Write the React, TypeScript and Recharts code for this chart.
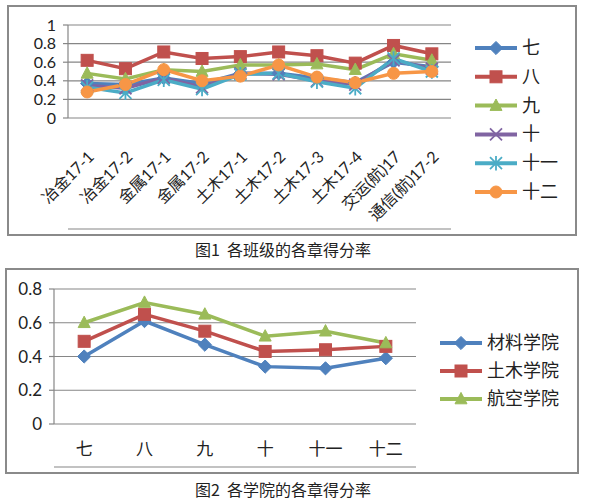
import React from "react"
import { LineChart, Line, XAxis, YAxis, CartesianGrid } from "recharts"

// 图1: score rate per class, one series per chapter
const classNames = ["冶金17-1", "冶金17-2", "金属17-1", "金属17-2", "土木17-1", "土木17-2", "土木17-3", "土木17-4", "交运(航)17", "通信(航)17-2"]
const ch7 = [0.37, 0.36, 0.43, 0.37, 0.48, 0.48, 0.43, 0.38, 0.6, 0.55]
const ch8 = [0.62, 0.53, 0.71, 0.64, 0.66, 0.71, 0.67, 0.59, 0.78, 0.69]
const ch9 = [0.48, 0.42, 0.52, 0.5, 0.57, 0.57, 0.58, 0.52, 0.69, 0.62]
const ch10 = [0.35, 0.32, 0.43, 0.33, 0.48, 0.47, 0.4, 0.36, 0.62, 0.53]
const ch11 = [0.33, 0.27, 0.41, 0.31, 0.47, 0.48, 0.39, 0.32, 0.64, 0.5]
const ch12 = [0.28, 0.36, 0.52, 0.4, 0.45, 0.57, 0.44, 0.38, 0.48, 0.5]
const classTicksY = [0, 0.2, 0.4, 0.6, 0.8, 1]

// 图2: score rate per chapter, one series per college
const chapters = ["七", "八", "九", "十", "十一", "十二"]
const cailiao = [0.4, 0.61, 0.47, 0.34, 0.33, 0.39]
const tumu = [0.49, 0.65, 0.55, 0.43, 0.44, 0.46]
const hangkong = [0.6, 0.72, 0.65, 0.52, 0.55, 0.48]
const collegeTicksY = [0, 0.2, 0.4, 0.6, 0.8]

type Shape = "diamond" | "square" | "triangle" | "x" | "star" | "circle"

const chapterSeries: { key: string; name: string; values: number[]; color: string; shape: Shape }[] = [
  { key: "c7", name: "七", values: ch7, color: "#4f81bd", shape: "diamond" },
  { key: "c8", name: "八", values: ch8, color: "#c0504d", shape: "square" },
  { key: "c9", name: "九", values: ch9, color: "#9bbb59", shape: "triangle" },
  { key: "c10", name: "十", values: ch10, color: "#8064a2", shape: "x" },
  { key: "c11", name: "十一", values: ch11, color: "#4bacc6", shape: "star" },
  { key: "c12", name: "十二", values: ch12, color: "#f79646", shape: "circle" },
]

const collegeSeries: { key: string; name: string; values: number[]; color: string; shape: Shape }[] = [
  { key: "cl", name: "材料学院", values: cailiao, color: "#4f81bd", shape: "diamond" },
  { key: "tm", name: "土木学院", values: tumu, color: "#c0504d", shape: "square" },
  { key: "hk", name: "航空学院", values: hangkong, color: "#9bbb59", shape: "triangle" },
]

const classRows = classNames.map((name, i) => {
  const row: Record<string, number | string> = { x: i + 0.5, name }
  chapterSeries.forEach((s) => (row[s.key] = s.values[i]))
  return row
})

const chapterRows = chapters.map((name, i) => {
  const row: Record<string, number | string> = { x: i + 0.5, name }
  collegeSeries.forEach((s) => (row[s.key] = s.values[i]))
  return row
})

const AXIS = "#868686"
const FONT = "Lato, 'Noto Sans CJK SC', sans-serif"

function Marker({ shape, cx, cy, color, size }: { shape: Shape; cx: number; cy: number; color: string; size: number }) {
  const h = size / 2
  switch (shape) {
    case "diamond":
      return <polygon points={`${cx},${cy - h * 1.1} ${cx + h * 1.1},${cy} ${cx},${cy + h * 1.1} ${cx - h * 1.1},${cy}`} fill={color} stroke={color} />
    case "square":
      return <rect x={cx - h} y={cy - h} width={size} height={size} fill={color} stroke={color} />
    case "triangle":
      return <polygon points={`${cx},${cy - h * 1.1} ${cx + h},${cy + h * 0.8} ${cx - h},${cy + h * 0.8}`} fill={color} stroke={color} />
    case "x":
      return (
        <g stroke={color} strokeWidth={1.8}>
          <line x1={cx - h} y1={cy - h} x2={cx + h} y2={cy + h} />
          <line x1={cx - h} y1={cy + h} x2={cx + h} y2={cy - h} />
        </g>
      )
    case "star":
      return (
        <g stroke={color} strokeWidth={1.8}>
          <line x1={cx - h} y1={cy - h} x2={cx + h} y2={cy + h} />
          <line x1={cx - h} y1={cy + h} x2={cx + h} y2={cy - h} />
          <line x1={cx} y1={cy - h * 1.2} x2={cx} y2={cy + h * 1.2} />
        </g>
      )
    default:
      return <circle cx={cx} cy={cy} r={h} fill={color} stroke={color} />
  }
}

const dotFor = (shape: Shape, color: string, size: number) =>
  // eslint-disable-next-line @typescript-eslint/no-explicit-any
  (props: any) => <Marker key={`${shape}-${props.index}`} shape={shape} cx={props.cx} cy={props.cy} color={color} size={size} />

// eslint-disable-next-line @typescript-eslint/no-explicit-any
const ClassTick = (props: any) => {
  const { x, y, payload } = props
  const label = classNames[Math.floor(payload.value)]
  return (
    <text transform={`translate(${x + 8},${y + 40}) rotate(-45)`} textAnchor="end" fontSize={16} fill="#222">
      {label}
    </text>
  )
}

// eslint-disable-next-line @typescript-eslint/no-explicit-any
const ChapterTick = (props: any) => {
  const { x, y, payload } = props
  return (
    <text x={x} y={y + 31} textAnchor="middle" fontSize={17} fill="#222">
      {chapters[Math.floor(payload.value)]}
    </text>
  )
}

function LegendBox({ items, left, top, rowGap }: { items: typeof chapterSeries; left: number; top: number; rowGap: number }) {
  return (
    <svg style={{ position: "absolute", left, top, overflow: "visible" }} width={140} height={items.length * rowGap + 20}>
      {items.map((s, i) => {
        const cy = 18 + i * rowGap
        return (
          <g key={s.key}>
            <line x1={5} y1={cy} x2={47} y2={cy} stroke={s.color} strokeWidth={4} />
            <Marker shape={s.shape} cx={26} cy={cy} color={s.color} size={12} />
            <text x={52} y={cy + 6} fontSize={18} fill="#222" fontFamily={FONT}>
              {s.name}
            </text>
          </g>
        )
      })}
    </svg>
  )
}

const boxStyle: React.CSSProperties = {
  position: "absolute",
  border: "2px solid #8a8a8a",
  boxSizing: "border-box",
}

const captionStyle: React.CSSProperties = {
  position: "absolute",
  left: 195,
  fontSize: 16,
  lineHeight: "16px",
  color: "#222",
  whiteSpace: "pre",
  fontFamily: "'Noto Sans CJK SC', sans-serif",
}

export default function App() {
  return (
    <div style={{ position: "absolute", left: 0, top: 0, width: 593, height: 500, background: "#fff", fontFamily: FONT, overflow: "hidden" }}>
      <div style={{ ...boxStyle, left: 7, top: 5, width: 570, height: 231 }} />
      <div style={{ position: "absolute", left: 7, top: 5 }}>
        <LineChart width={569} height={230} data={classRows} margin={{ top: 20, right: 125, bottom: 0, left: 0 }}>
          <CartesianGrid xAxisId="t" vertical={false} stroke={AXIS} strokeWidth={1.2} />
          <XAxis xAxisId="t" type="number" dataKey="x" domain={[0, classNames.length]} allowDataOverflow ticks={classNames.map((_, i) => i).concat(classNames.length)} interval={0} tick={false} tickSize={6} height={6} stroke={AXIS} strokeWidth={1.2} />
          <XAxis xAxisId="lab" type="number" dataKey="x" domain={[0, classNames.length]} allowDataOverflow ticks={classNames.map((_, i) => i + 0.5)} axisLine={false} tickLine={false} tickSize={0} tickMargin={0} height={111} tick={ClassTick} interval={0} />
          <YAxis type="number" domain={[0, 1]} ticks={classTicksY} interval={0} width={61} tickSize={5} tickMargin={7} stroke={AXIS} strokeWidth={1.2} tick={{ fontSize: 16, fill: "#222" }} tickFormatter={(v: number) => String(v)} />
          {chapterSeries.map((s) => (
            <Line key={s.key} xAxisId="t" dataKey={s.key} name={s.name} stroke={s.color} strokeWidth={3.5} dot={dotFor(s.shape, s.color, 12)} activeDot={false} isAnimationActive={false} />
          ))}
        </LineChart>
      </div>
      <LegendBox items={chapterSeries} left={470} top={30} rowGap={28.8} />
      <div style={{ ...captionStyle, top: 241 }}>{"图1  各班级的各章得分率"}</div>

      <div style={{ ...boxStyle, left: 5, top: 268, width: 574, height: 206 }} />
      <div style={{ position: "absolute", left: 5, top: 268 }}>
        <LineChart width={573} height={205} data={chapterRows} margin={{ top: 21, right: 162, bottom: 0, left: 0 }}>
          <CartesianGrid xAxisId="t" vertical={false} stroke={AXIS} strokeWidth={1.2} />
          <XAxis xAxisId="t" type="number" dataKey="x" domain={[0, chapters.length]} allowDataOverflow ticks={chapters.map((_, i) => i).concat(chapters.length)} interval={0} tick={false} tickSize={6} height={6} stroke={AXIS} strokeWidth={1.2} />
          <XAxis xAxisId="lab" type="number" dataKey="x" domain={[0, chapters.length]} allowDataOverflow ticks={chapters.map((_, i) => i + 0.5)} axisLine={false} tickLine={false} tickSize={0} tickMargin={0} height={43} tick={ChapterTick} interval={0} />
          <YAxis type="number" domain={[0, 0.8]} ticks={collegeTicksY} interval={0} width={49} tickSize={5} tickMargin={7} stroke={AXIS} strokeWidth={1.2} tick={{ fontSize: 17, fill: "#222" }} tickFormatter={(v: number) => String(v)} />
          {collegeSeries.map((s) => (
            <Line key={s.key} xAxisId="t" dataKey={s.key} name={s.name} stroke={s.color} strokeWidth={3.5} dot={dotFor(s.shape, s.color, 12)} activeDot={false} isAnimationActive={false} />
          ))}
        </LineChart>
      </div>
      <LegendBox items={collegeSeries} left={435} top={325} rowGap={28} />
      <div style={{ ...captionStyle, top: 481 }}>{"图2  各学院的各章得分率"}</div>
    </div>
  )
}
